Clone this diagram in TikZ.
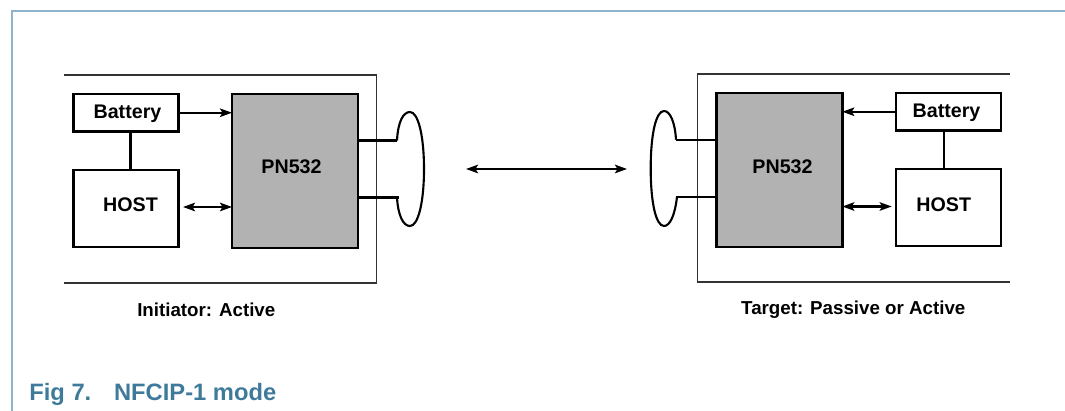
\documentclass[tikz,border=0pt]{standalone}
\usepackage{fontspec}
\setmainfont{Liberation Sans}
\usetikzlibrary{arrows.meta}
\definecolor{framecolor}{HTML}{8DB4CB}
\definecolor{captioncolor}{HTML}{3F7A9B}
\definecolor{chipgray}{HTML}{B2B2B2}
\begin{document}
\begin{tikzpicture}[x=.02cm,y=-.02cm]
      % Define styles for nodes
      \tikzstyle{battery} = [anchor=north west,draw,rectangle,fill=white,outer sep=0pt,
      minimum width=2.1cm,minimum height=.75cm,line width=1.2pt,inner sep=0pt]
      \tikzstyle{host} = [anchor=north west,draw,rectangle,fill=white,outer sep=0pt,
      minimum width=2.1cm,minimum height=1.54cm,line width=1.2pt,inner sep=0pt]
      \tikzstyle{chip} = [anchor=north west,draw,rectangle,fill=chipgray,outer sep=0pt,
      minimum width=2.52cm,minimum height=3.08cm,line width=1.4pt,inner sep=0pt]
      \tikzstyle{boxtext} = [font=\fontsize{11.2}{13}\selectfont\bfseries,inner sep=0pt]
      \tikzstyle{modetext} = [font=\fontsize{10.66}{13}\selectfont\bfseries,inner sep=0pt]
      \tikzstyle{wire} = [line width=1.2pt]
      \tikzstyle{arrow} = [line width=1.2pt,-{Stealth[length=.24cm,width=.17cm,inset=.05cm]}]
      \tikzstyle{twoway} = [line width=1.2pt,{Stealth[length=.24cm,width=.17cm,inset=.05cm]}-{Stealth[length=.24cm,width=.17cm,inset=.05cm]}]

      \useasboundingbox (0,0) rectangle (1065,411);

      % Page frame
      \draw[framecolor,line width=.9pt] (12,411) -- (12,11) -- (1065,11);

      % Open boxes around both devices
      \draw[line width=.7pt,black!80] (64,75) -- (376.5,75) -- (376.5,283) -- (64,283);
      \draw[line width=.7pt,black!80] (1010,74) -- (697.7,74) -- (697.7,282) -- (1010,282);

      % Initiator side
      \node[battery] (batteryL) at (73.5,94) {};
      \node[host] (hostL) at (73.5,170) {};
      \node[chip] (chipL) at (232,94) {};
      \node[boxtext] (batteryLtext) at (127.5,113.5) {Battery};
      \node[boxtext] (hostLtext) at (130.5,205) {HOST};
      \node[boxtext] (chipLtext) at (291.5,167) {PN532};

      % Target side
      \node[chip] (chipR) at (716.3,93) {};
      \node[battery] (batteryR) at (896,93) {};
      \node[host] (hostR) at (896,169) {};
      \node[boxtext] (batteryRtext) at (946.5,112.5) {Battery};
      \node[boxtext] (hostRtext) at (943.8,204.5) {HOST};
      \node[boxtext] (chipRtext) at (782.5,167) {PN532};

      % Free ends
      \coordinate (antLtop) at (397,140.5);
      \coordinate (antLbot) at (399,197.5);
      \coordinate (antRtop) at (676,139.7);
      \coordinate (antRbot) at (676,196.7);
      \coordinate (linkL) at (466,169);
      \coordinate (linkR) at (627,169);
      \coordinate (dcL) at (130.5,150);
      \coordinate (dcR) at (943.7,150);
      \coordinate (dataL) at (183,207);
      \coordinate (dataR) at (891.7,206.5);

      % Connections
      \draw[arrow] (batteryL.east) -- (batteryL.east -| chipL.west);
      \draw[arrow] (batteryR.west) -- (batteryR.west -| chipR.east);
      \draw[wire] (dcL |- batteryL.south) -- (dcL |- hostL.north);
      \draw[wire] (dcR |- batteryR.south) -- (dcR |- hostR.north);
      \draw[twoway] (dataL) -- (dataL -| chipL.west);
      \draw[twoway] (dataR) -- (dataR -| chipR.east);
      \draw[twoway] (linkL) -- (linkR);

      % Antennas
      \draw[wire] (antLtop -| chipL.east) -- (antLtop);
      \draw[wire] (antLbot -| chipL.east) -- (antLbot);
      \draw[wire] (antRtop -| chipR.west) -- (antRtop);
      \draw[wire] (antRbot -| chipR.west) -- (antRbot);
      \draw[wire] (antLtop) .. controls (398,122) and (403,112) .. (410,112)
      .. controls (418,112) and (424,135) .. (424,169)
      .. controls (424,203) and (418,226) .. (410,226)
      .. controls (403,226) and (398,215) .. (397,197.5);
      \draw[wire] (antRtop) .. controls (675,122) and (670,111) .. (664,111)
      .. controls (656,111) and (650.7,134) .. (650.7,168.5)
      .. controls (650.7,203) and (656,226) .. (664,226)
      .. controls (670,226) and (675,215) .. (677,196.7);

      % Labels at bottom
      \node[modetext] (initiator) at (206.3,309.5) {Initiator: Active};
      \node[modetext] (target) at (853.3,309.5) {Target: Passive or Active};
      \node[anchor=west,inner sep=0pt,text=captioncolor,
      font=\fontsize{13.5}{16}\selectfont\bfseries] (caption) at (29,394)
      {Fig 7.\hspace{13pt}NFCIP-1 mode};

    \end{tikzpicture}
\end{document}
